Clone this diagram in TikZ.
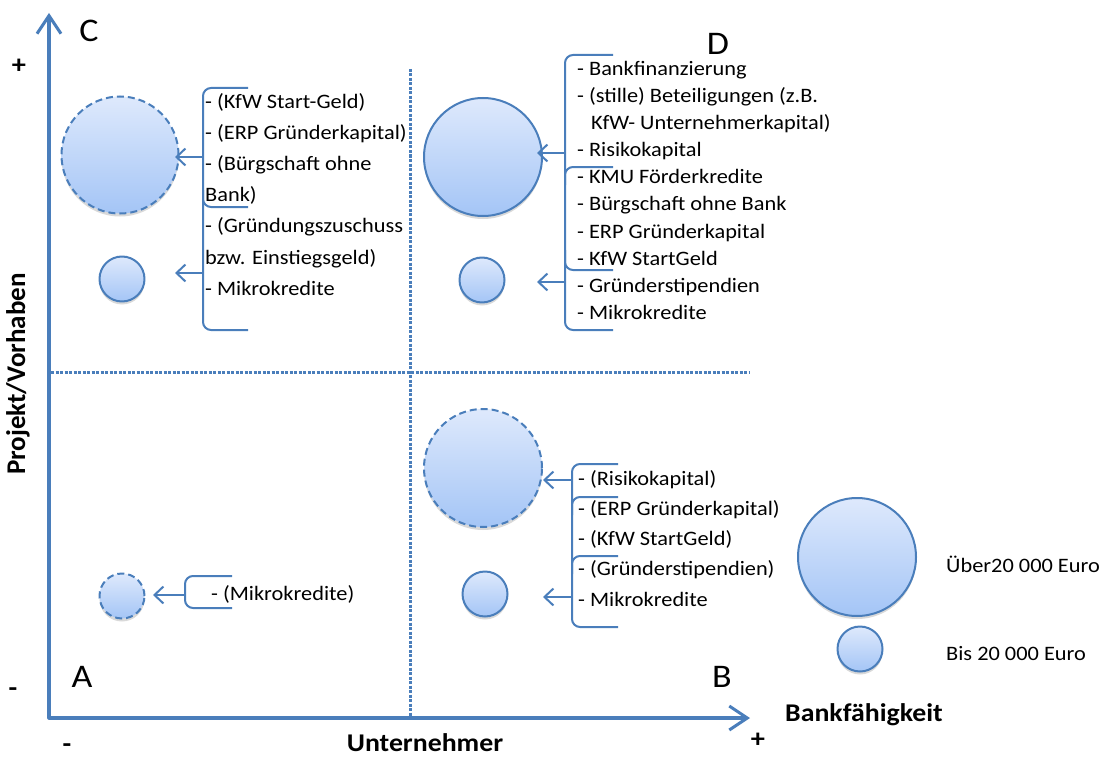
\documentclass[tikz,border=0pt]{standalone}
\usepackage{fontspec}
\setmainfont{Carlito}[FakeStretch=1.09]
\newfontfamily\rotfont{Carlito}
\usetikzlibrary{arrows.meta,shadows}
\definecolor{axblue}{RGB}{74,126,187}
\definecolor{bubtop}{RGB}{222,233,252}
\definecolor{bubbot}{RGB}{164,197,246}
\tikzset{
  axis/.style={axblue,line width=3.2pt,{Straight Barb[length=18pt,width=24pt,line width=3pt]}-{Straight Barb[length=18pt,width=24pt,line width=3pt]}},
  grid/.style={axblue,line width=3pt,dash pattern=on 3pt off 1.5pt},
  bub/.style={circle,draw=axblue,line width=2pt,top color=bubtop,bottom color=bubbot,
    drop shadow={shadow xshift=0pt,shadow yshift=-3pt,opacity=.25,fill=black!60}},
  dbub/.style={bub,dash pattern=on 7pt off 4pt},
  brc/.style={axblue,line width=2pt,rounded corners=8pt},
  arr/.style={axblue,line width=2pt,-{Straight Barb[length=9pt,width=17pt,line width=2pt]}},
  lst/.style={inner sep=0pt,anchor=north west,align=left},
  quad/.style={font=\fontsize{33}{33}\selectfont},
  axlab/.style={inner sep=0pt,font=\fontsize{25.5}{26}\selectfont\bfseries},
  sgn/.style={inner sep=0pt,font=\fontsize{26}{26}\selectfont\bfseries}
}
\begin{document}
\begin{tikzpicture}[x=1pt,y=-1pt,line join=round]
\useasboundingbox (0,0) rectangle (1111,757);
% Achsen und Quadranten
\draw[axis] (49,13) -- (49,718) -- (750,718);
\draw[grid] (410,69) -- (410,716);
\draw[grid] (51,372) -- (749,372);
\node[quad] (qc) at (89,31) {C};
\node[quad] (qd) at (718,44) {D};
\node[quad] (qa) at (82,677) {A};
\node[quad] (qb) at (722,677) {B};
\node[sgn] (yp) at (19,66) {+};
\node[sgn] (ym) at (13,692) {-};
\node[sgn] (xm) at (67,748) {-};
\node[sgn] (xp) at (758,740) {+};
\node[axlab,anchor=base] (xl) at (425,751) {Unternehmer};
\node[axlab,anchor=west] (bf) at (785,715) {Bankfähigkeit};
\node[font=\fontsize{27}{27}\selectfont\rotfont\bfseries,rotate=90] (yl) at (18,374) {Projekt/Vorhaben};
% Kreise
\node[dbub,minimum size=117pt] (cbig) at (120,155) {};
\node[bub,minimum size=45pt] (csml) at (122,279) {};
\node[bub,minimum size=118pt] (dbig) at (483,157) {};
\node[bub,minimum size=45pt] (dsml) at (482,280) {};
\node[dbub,minimum size=118pt] (bbig) at (483,468) {};
\node[bub,minimum size=45pt] (bsml) at (485,594) {};
\node[dbub,minimum size=45pt] (asml) at (122,596) {};
\node[bub,minimum size=118pt] (lbig) at (857,557) {};
\node[bub,minimum size=45pt] (lsml) at (860,649) {};
% Klammern
\draw[brc] (248,88) -- (203,88) -- (203,330) -- (248,330);
\draw[brc] (203,190) -- (203,207) -- (248,207);
\draw[brc] (613,55) -- (565,55) -- (565,330) -- (613,330);
\draw[brc] (613,167) -- (565,167) -- (565,185);
\draw[brc] (565,250) -- (565,270) -- (613,270);
\draw[brc] (618,464) -- (572,464) -- (572,627) -- (618,627);
\draw[brc] (618,497) -- (572,497) -- (572,515);
\draw[brc] (618,556) -- (572,556) -- (572,574);
\draw[brc] (232,576) -- (185,576) -- (185,608) -- (232,608);
% Pfeile
\foreach \n/\x/\y/\t in {c1/203/157/175, c2/203/273/175, d1/565/153/537,
  d2/565/282/537, b1/572/480/543, b2/572/597/543, a1/185/595/153}
  \draw[arr] (\x,\y) coordinate (\n s) -- (\t,\y) coordinate (\n e);
% Listen
\node[lst,font=\fontsize{20.5}{31.2}\selectfont] (lc) at (205,93) {- (KfW Start-Geld)\\- (ERP Gründerkapital)\\- (Bürgschaft ohne\\Bank)\\- (Gründungszuschuss\\bzw. Einstiegsgeld)\\- Mikrokredite};
\node[lst,font=\fontsize{20.5}{27.1}\selectfont] (ld) at (577,61) {- Bankfinanzierung\\- (stille) Beteiligungen (z.B.\\\hspace*{14pt}KfW- Unternehmerkapital)\\- Risikokapital\\- KMU Förderkredite\\- Bürgschaft ohne Bank\\- ERP Gründerkapital\\- KfW StartGeld\\- Gründerstipendien\\- Mikrokredite};
\node[lst,font=\fontsize{20.5}{30.25}\selectfont] (lb) at (578,470) {- (Risikokapital)\\- (ERP Gründerkapital)\\- (KfW StartGeld)\\- (Gründerstipendien)\\- Mikrokredite};
\node[lst,font=\fontsize{20.5}{24}\selectfont,anchor=west] (la) at (211,594) {- (Mikrokredite)};
\node[lst,font=\fontsize{20.5}{24}\selectfont,anchor=west] (lu) at (946,564) {Über20 000 Euro};
\node[lst,font=\fontsize{20.5}{24}\selectfont,anchor=west] (lbi) at (946,654) {Bis 20 000 Euro};
\end{tikzpicture}
\end{document}
